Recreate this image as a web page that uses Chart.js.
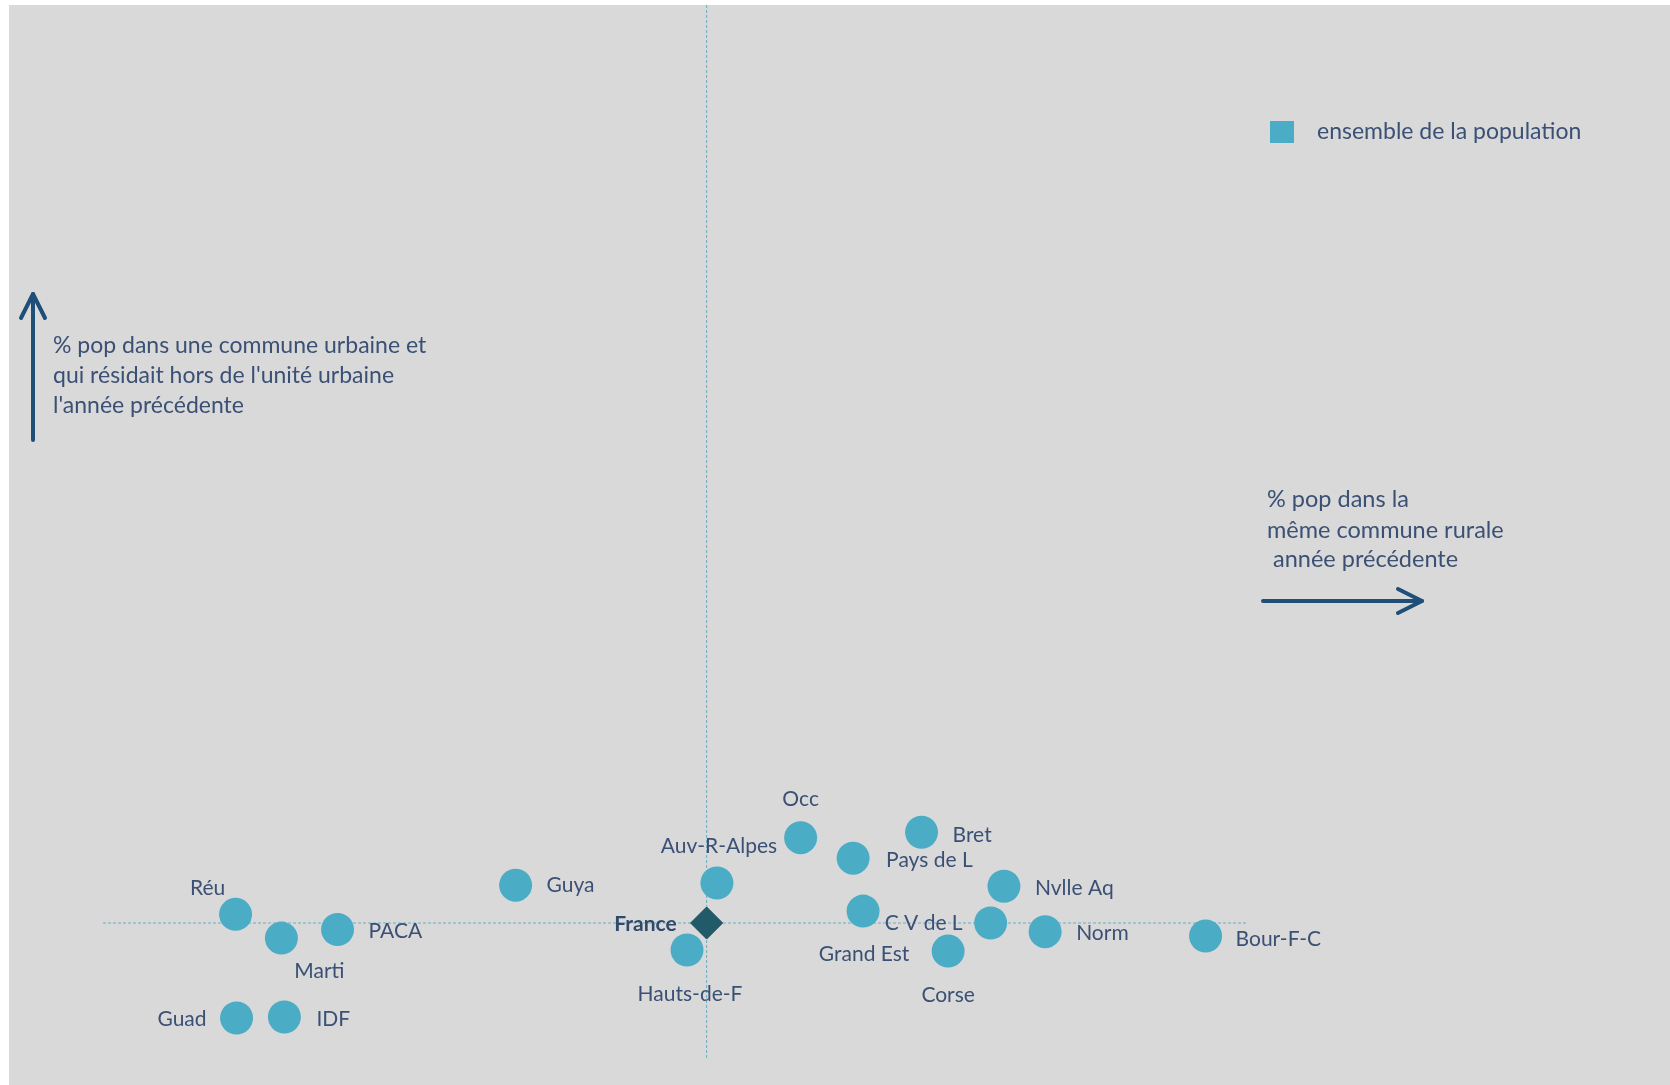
<!DOCTYPE html>
<html lang="fr">
<head>
<meta charset="utf-8">
<title>Mobilité résidentielle par région</title>
<script src="https://cdn.jsdelivr.net/npm/chart.js@4.4.1/dist/chart.umd.min.js"></script>
<style>
  html, body { margin: 0; padding: 0; background: #ffffff; }
  #chart-box {
    position: absolute;
    left: 9px;
    top: 5px;
    width: 1661px;
    height: 1080px;
    background: #d9d9d9;
  }
</style>
</head>
<body>
<div id="chart-box"><canvas id="scatter-chart"></canvas></div>
<script>
// regions and their two indicators (x: same rural commune, y: arrived from outside the urban unit)
const regions = ['Réu', 'Marti', 'PACA', 'Guad', 'IDF', 'Guya', 'Auv-R-Alpes', 'Hauts-de-F', 'Occ',
  'Pays de L', 'Bret', 'Grand Est', 'C V de L', 'Nvlle Aq', 'Norm', 'Corse', 'Bour-F-C'];
const pctRural = [6.82, 8.20, 9.89, 6.85, 8.29, 15.25, 21.31, 20.41, 23.83,
  25.41, 27.47, 25.71, 29.55, 29.95, 31.19, 28.27, 36.02];
const pctUrbanArrivals = [1.58, 1.36, 1.44, 0.62, 0.63, 1.85, 1.87, 1.25, 2.29,
  2.10, 2.34, 1.61, 1.50, 1.84, 1.42, 1.24, 1.38];

const franceLabel = ['France'];
const franceX = [21.0];
const franceY = [1.5];

// France reference lines
const hLineX = [2.83, 37.24];
const vLineY = [10, 0.25];

const xRange = [0, 50];
const yRange = [0, 10];

// label placement next to each point: dx, dy, align
const labelPlace = [
  [-28, -26, 'center'], [38, 33, 'center'], [31, 2, 'left'], [-30, 1, 'right'], [32, 2, 'left'],
  [31, 0, 'left'], [2, -37, 'center'], [3, 44, 'center'], [0, -38, 'center'],
  [33, 2, 'left'], [31, 3, 'left'], [1, 43, 'center'], [-28, 0, 'right'], [31, 2, 'left'],
  [31, 2, 'left'], [0, 44, 'center'], [30, 3, 'left']
];

const textColor = '#3b5075';
const arrowColor = '#1f4e79';
const pointColor = '#4bacc6';

const labelPlugin = {
  id: 'pointLabels',
  afterDatasetsDraw(chart) {
    const ctx = chart.ctx;
    ctx.save();
    ctx.textBaseline = 'middle';
    ctx.fillStyle = textColor;
    ctx.font = '21px Lato';
    chart.getDatasetMeta(1).data.forEach((pt, i) => {
      const p = labelPlace[i];
      ctx.textAlign = p[2];
      ctx.fillText(regions[i], pt.x + p[0], pt.y + p[1]);
    });
    ctx.font = 'bold 21px Lato';
    ctx.fillStyle = '#2f4a6a';
    ctx.textAlign = 'right';
    const fr = chart.getDatasetMeta(0).data[0];
    ctx.fillText(franceLabel[0], fr.x - 30, fr.y + 1);
    ctx.restore();
  }
};

function drawArrow(ctx, x1, y1, x2, y2) {
  const ang = Math.atan2(y2 - y1, x2 - x1);
  ctx.beginPath();
  ctx.moveTo(x1, y1);
  ctx.lineTo(x2, y2);
  ctx.stroke();
  ctx.beginPath();
  ctx.moveTo(x2 - 24 * Math.cos(ang) - 12 * Math.sin(ang), y2 - 24 * Math.sin(ang) + 12 * Math.cos(ang));
  ctx.lineTo(x2, y2);
  ctx.lineTo(x2 - 24 * Math.cos(ang) + 12 * Math.sin(ang), y2 - 24 * Math.sin(ang) - 12 * Math.cos(ang));
  ctx.stroke();
}

const notesPlugin = {
  id: 'axisNotes',
  afterDraw(chart) {
    const ctx = chart.ctx;
    ctx.save();
    ctx.strokeStyle = arrowColor;
    ctx.lineWidth = 4;
    ctx.lineCap = 'round';
    ctx.lineJoin = 'round';
    drawArrow(ctx, 24, 435, 24, 289);
    drawArrow(ctx, 1254, 596, 1413, 596);

    ctx.fillStyle = textColor;
    ctx.font = '23px Lato';
    ctx.textAlign = 'left';
    ctx.textBaseline = 'alphabetic';
    ctx.fillText('% pop dans une commune urbaine et', 44, 348);
    ctx.fillText("qui résidait hors de l'unité urbaine", 44, 378);
    ctx.fillText("l'année précédente", 44, 408);

    ctx.font = '23.5px Lato';
    ctx.fillText('% pop dans la', 1258, 502);
    ctx.fillText('même commune rurale', 1258, 533);
    ctx.fillText(' année précédente', 1258, 562);

    // legend
    ctx.fillStyle = pointColor;
    ctx.fillRect(1261, 116, 24, 22);
    ctx.fillStyle = textColor;
    ctx.font = '23px Lato';
    ctx.textBaseline = 'middle';
    ctx.fillText(chart.data.datasets[1].label, 1308, 127);
    ctx.restore();
  }
};

function buildChart() {
  const ctx = document.getElementById('scatter-chart').getContext('2d');
  new Chart(ctx, {
    type: 'scatter',
    data: {
      datasets: [
        {
          label: 'France',
          data: franceX.map((x, i) => ({ x: x, y: franceY[i] })),
          pointStyle: 'rectRot',
          pointRadius: 16,
          backgroundColor: '#215a68',
          borderColor: '#1a4a57',
          borderWidth: 1
        },
        {
          label: 'ensemble de la population',
          data: pctRural.map((x, i) => ({ x: x, y: pctUrbanArrivals[i] })),
          pointStyle: 'circle',
          pointRadius: 16.5,
          backgroundColor: pointColor,
          borderWidth: 0
        },
        {
          label: 'ref-h',
          data: hLineX.map(x => ({ x: x, y: franceY[0] })),
          showLine: true,
          pointRadius: 0,
          borderColor: '#6aaec4',
          borderWidth: 1,
          borderDash: [3, 2]
        },
        {
          label: 'ref-v',
          data: vLineY.map(y => ({ x: franceX[0], y: y })),
          showLine: true,
          pointRadius: 0,
          borderColor: '#6aaec4',
          borderWidth: 1,
          borderDash: [3, 2]
        }
      ]
    },
    options: {
      responsive: true,
      maintainAspectRatio: false,
      animation: false,
      layout: { padding: 0, autoPadding: false },
      plugins: {
        legend: { display: false },
        tooltip: { enabled: false }
      },
      scales: {
        x: { type: 'linear', min: xRange[0], max: xRange[1], display: false },
        y: { type: 'linear', min: yRange[0], max: yRange[1], display: false }
      }
    },
    plugins: [labelPlugin, notesPlugin]
  });
}

document.fonts.load('20px Lato').then(buildChart, buildChart);
</script>
</body>
</html>
